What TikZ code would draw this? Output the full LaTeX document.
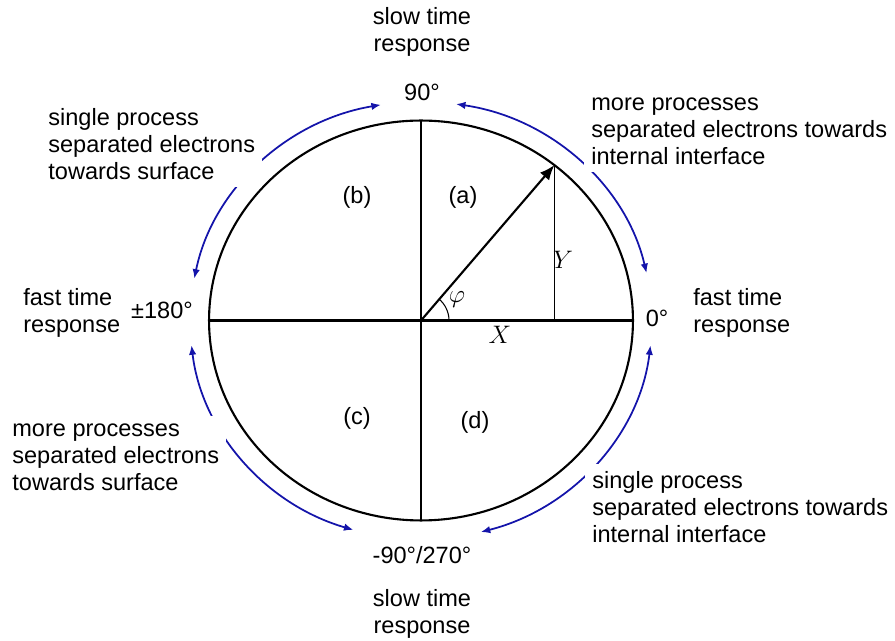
\documentclass[tikz,border=0pt]{standalone}
\usepackage{fontspec}
\setmainfont{Liberation Sans}
\usetikzlibrary{arrows.meta}

\definecolor{arcblue}{RGB}{20,20,170}

\begin{document}
\begin{tikzpicture}[
    x=0.02cm, y=0.02cm,
    txt/.style={font=\fontsize{13.4}{15.4}\selectfont, align=center, inner sep=0pt},
    desc/.style={txt, align=left, anchor=west, fill=white, inner sep=4pt},
    sym/.style={font=\fontsize{13.5}{15}\selectfont, inner sep=0pt},
    circ/.style={line width=1.2pt},
    turn/.style={{Latex[length=1.9mm, width=1.5mm]}-{Latex[length=1.9mm, width=1.5mm]},
      draw=arcblue, line width=1pt},
    vec/.style={-{Latex[length=3mm, width=2.4mm]}, line width=1.2pt}
]
\useasboundingbox (-421,-320.5) rectangle (474,320.5);

% Circle and axes
\coordinate (O) at (0,0);
\coordinate (top) at (0,200);
\coordinate (bot) at (0,-200);
\coordinate (lft) at (-212,0);
\coordinate (rgt) at (212,0);
\draw[circ] (O) ellipse[x radius=4.24cm, y radius=4cm];
\draw[circ] (top) -- (bot);
\draw[circ] (lft) -- (rgt);

% Vector and its components
\coordinate (tip) at ({212*cos(51)},{200*sin(51)});
\coordinate (foot) at (tip |- O);
\draw[line width=0.6pt] (tip) -- (foot);
\draw[vec] (O) -- (tip);
\draw[line width=0.6pt] (0.56cm,0) arc[start angle=0, end angle=49.4, radius=0.56cm];

% Blue arcs
\draw[turn] ({231*cos(12.5)},{219*sin(12.5)}) arc[start angle=12.5, end angle=81.3, x radius=4.62cm, y radius=4.38cm];
\draw[turn] ({231*cos(100)},{219*sin(100)}) arc[start angle=100, end angle=169, x radius=4.62cm, y radius=4.38cm];
\draw[turn] ({231*cos(186.5)},{219*sin(186.5)}) arc[start angle=186.5, end angle=253, x radius=4.62cm, y radius=4.38cm];
\draw[turn] ({231*cos(285)},{219*sin(285)}) arc[start angle=285, end angle=353.5, x radius=4.62cm, y radius=4.38cm];

% Angle labels
\node[txt] (deg90) at (1,228.5) {90°};
\node[txt] (deg0) at (236,2.5) {0°};
\node[txt] (deg180) at (-259,10.5) {±180°};
\node[txt] (deg270) at (1,-234.5) {-90°/270°};

% Response labels
\node[txt] (slowtop) at (1,288.5) {slow time\\response};
\node[txt] (slowbot) at (1,-293.5) {slow time\\response};
\node[txt, align=left, anchor=west] (fastleft) at (-398,8) {fast time\\response};
\node[txt, align=left, anchor=west] (fastright) at (272,7.5) {fast time\\response};

% Quadrant descriptions
\node[desc] (descTR) at (163,189.5) {more processes\\separated electrons towards\\internal interface};
\node[desc] (descTL) at (-380,176.5) {single process\\separated electrons\\towards surface};
\node[desc] (descBL) at (-416,-136.5) {more processes\\separated electrons\\towards surface};
\node[desc] (descBR) at (164,-186.5) {single process\\separated electrons towards\\internal interface};

% Quadrant names
\node[txt] (qa) at (42,123.5) {(a)};
\node[txt] (qb) at (-64,123.5) {(b)};
\node[txt] (qc) at (-64,-97.5) {(c)};
\node[txt] (qd) at (54,-101.5) {(d)};

% Component labels
\node[sym] (lblX) at (79,-14.5) {$X$};
\node[sym] (lblY) at (142,60.5) {$Y$};
\node[sym] (lblphi) at (36,20.5) {$\varphi$};

\end{tikzpicture}
\end{document}
